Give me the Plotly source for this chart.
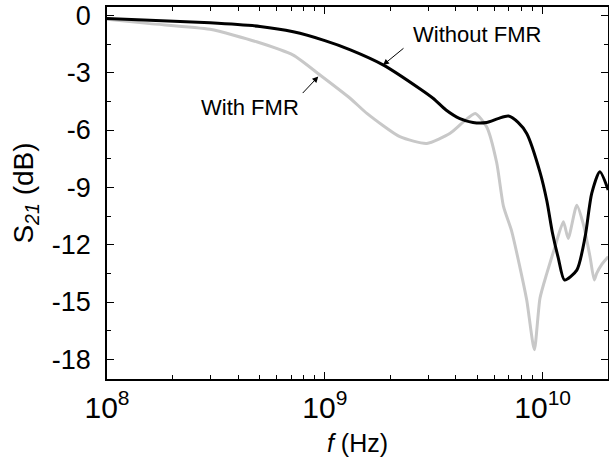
import plotly.graph_objects as go

# With FMR (gray)
f_with = [1.00e8, 1.57e8, 2.97e8, 4.86e8, 7.16e8, 9.50e8, 1.31e9, 1.56e9, 2.21e9,
          2.94e9, 3.76e9, 4.33e9, 4.90e9, 5.53e9, 6.15e9, 6.61e9, 7.21e9, 7.87e9,
          8.45e9, 9.16e9, 9.72e9, 1.045e10, 1.14e10, 1.245e10, 1.31e10,
          1.435e10, 1.535e10, 1.65e10, 1.725e10, 1.77e10, 1.875e10, 2.00e10]
s21_with = [-0.20, -0.43, -0.73, -1.38, -2.08, -3.12, -4.35, -5.13, -6.35,
            -6.70, -6.17, -5.57, -5.13, -5.83, -7.70, -10.0, -11.3, -13.2,
            -14.9, -17.5, -14.8, -13.5, -12.1, -10.8, -11.67,
            -9.93, -10.9, -12.63, -13.85, -13.5, -13.0, -12.63]

# Without FMR (black)
f_without = [1.00e8, 1.57e8, 2.97e8, 5.04e8, 7.16e8, 1.00e9, 1.31e9, 1.86e9, 2.74e9,
             3.15e9, 3.60e9, 4.17e9, 4.79e9, 5.53e9, 6.24e9, 6.97e9, 7.71e9, 8.45e9,
             9.72e9, 1.045e10, 1.11e10, 1.18e10, 1.26e10, 1.435e10, 1.567e10, 1.68e10,
             1.83e10, 2.00e10]
s21_without = [-0.16, -0.25, -0.39, -0.58, -0.86, -1.32, -1.80, -2.60, -3.85,
               -4.35, -4.95, -5.40, -5.60, -5.60, -5.40, -5.27, -5.60, -6.18,
               -8.20, -9.70, -11.4, -12.7, -13.85, -13.33, -11.58, -9.32,
               -8.18, -9.14]

x_tickvals = [1e8, 1e9, 1e10]
x_ticktext = ["10<sup>8</sup>", "10<sup>9</sup>", "10<sup>10</sup>"]
y_tickvals = [0, -3, -6, -9, -12, -15, -18]
y_ticktext = ["0", "-3", "-6", "-9", "-12", "-15", "-18"]

fig = go.Figure()
fig.add_trace(go.Scatter(x=f_with, y=s21_with, mode="lines",
                         line=dict(color="#c8c8c8", width=3, shape="spline", smoothing=0.6),
                         showlegend=False))
fig.add_trace(go.Scatter(x=f_without, y=s21_without, mode="lines",
                         line=dict(color="#000000", width=3, shape="spline", smoothing=0.7),
                         showlegend=False))

font_main = "Liberation Sans, Arial, sans-serif"

fig.update_layout(
    width=609, height=467,
    margin=dict(l=107, r=1, t=7, b=88),
    plot_bgcolor="white", paper_bgcolor="white",
    font=dict(family=font_main, size=24, color="black"),
    xaxis=dict(type="log", range=[8, 10.3], showgrid=False, zeroline=False,
               showline=True, linecolor="black", linewidth=1.5, mirror="ticks",
               ticks="inside", ticklen=7, tickcolor="black",
               tickvals=x_tickvals, ticktext=x_ticktext,
               tickfont=dict(size=30), automargin=False, ticklabelstandoff=1,
               minor=dict(ticks="inside", ticklen=4, tickcolor="black", showgrid=False,
                          dtick="D1"),
               title=dict(text="<i>f</i> (Hz)", font=dict(size=25), standoff=12)),
    yaxis=dict(range=[-19.03, 0.44], showgrid=False, zeroline=False,
               showline=True, linecolor="black", linewidth=1.5, mirror="ticks",
               ticks="inside", ticklen=7, tickcolor="black",
               tickvals=y_tickvals, ticktext=y_ticktext, tickfont=dict(size=27),
               automargin=False, ticklabelstandoff=9,
               minor=dict(ticks="inside", ticklen=4, tickcolor="black", dtick=1.5,
                          tick0=0, showgrid=False),
               title=dict(text="S<sub><i>21</i></sub> (dB)", font=dict(size=28), standoff=10)),
)

# text labels
fig.add_annotation(x=9.699, y=-1.0, xref="x", yref="y", text="Without FMR",
                   showarrow=False, font=dict(size=22))
fig.add_annotation(x=8.657, y=-4.8, xref="x", yref="y", text="With FMR",
                   showarrow=False, font=dict(size=22))
# arrows
fig.add_annotation(x=9.267, y=-2.60, xref="x", yref="y", text="", showarrow=True,
                   ax=22, ay=-18, arrowhead=2, arrowsize=1.2, arrowwidth=1,
                   arrowcolor="black", standoff=0)
fig.add_annotation(x=8.970, y=-3.20, xref="x", yref="y", text="", showarrow=True,
                   ax=-17, ay=18, arrowhead=2, arrowsize=1.2, arrowwidth=1,
                   arrowcolor="black", standoff=0)

fig.write_html("out.html", config={"displayModeBar": False},
               post_script="document.body.style.margin='0px';")
